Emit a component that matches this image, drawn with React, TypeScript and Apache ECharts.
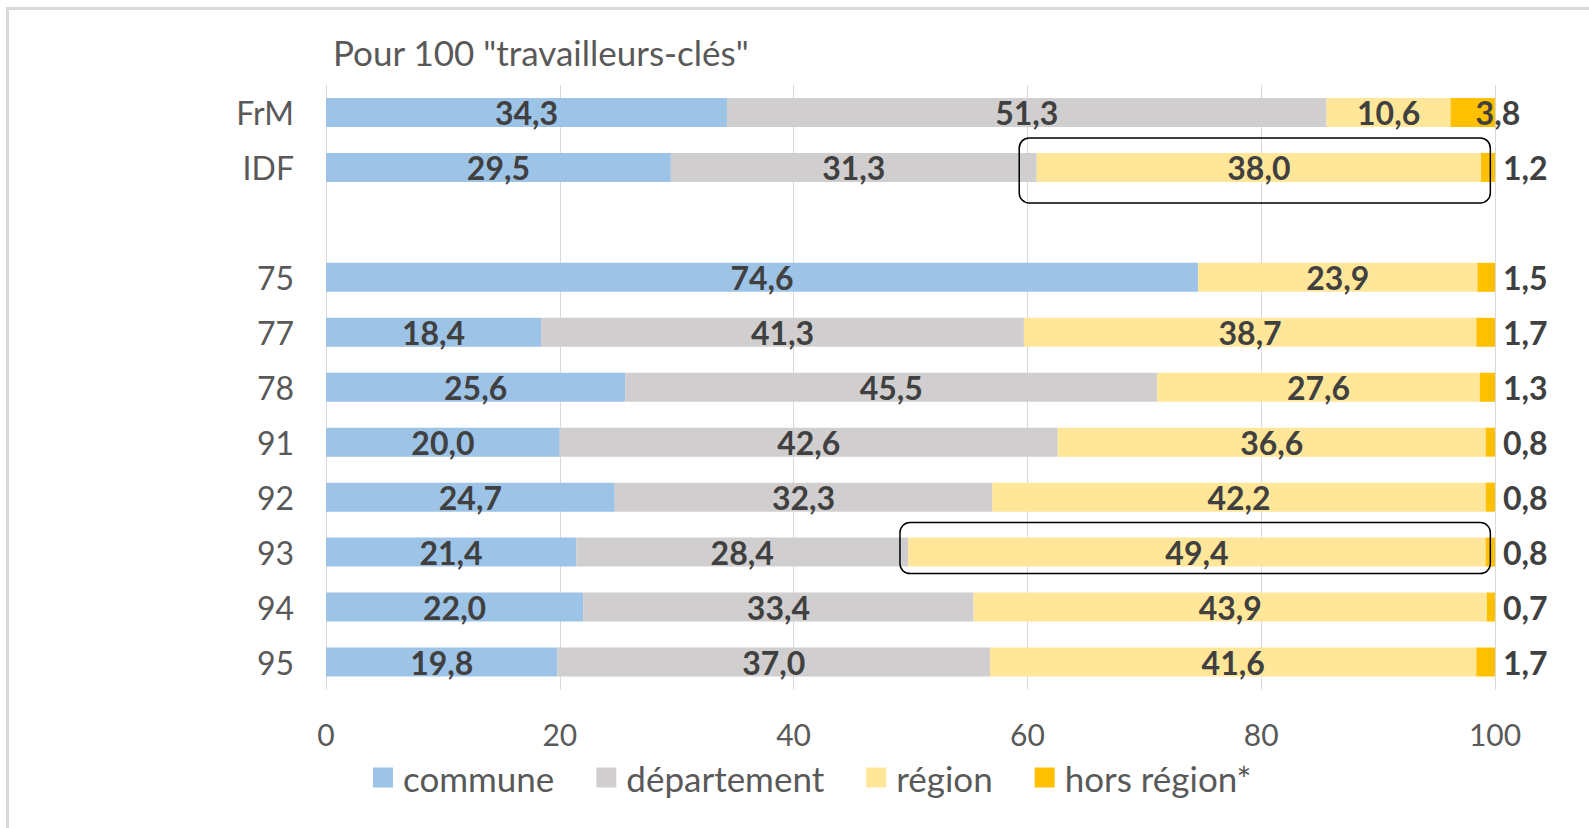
import React, { useEffect, useRef } from "react";
import * as echarts from "echarts";

const categories = ["FrM", "IDF", "", "75", "77", "78", "91", "92", "93", "94", "95"];
const commune = [34.3, 29.5, null, 74.6, 18.4, 25.6, 20.0, 24.7, 21.4, 22.0, 19.8];
const departement = [51.3, 31.3, null, null, 41.3, 45.5, 42.6, 32.3, 28.4, 33.4, 37.0];
const regionV = [10.6, 38.0, null, 23.9, 38.7, 27.6, 36.6, 42.2, 49.4, 43.9, 41.6];
const horsRegion = [3.8, 1.2, null, 1.5, 1.7, 1.3, 0.8, 0.8, 0.8, 0.7, 1.7];
const seriesNames = ["commune", "département", "région", "hors région*"];
const colors = ["#9DC3E6", "#D0CECE", "#FFE699", "#FFC000"];
const xTicks = [0, 20, 40, 60, 80, 100];
const titleText = 'Pour 100 "travailleurs-clés"';

const FONT = "Lato, 'Open Sans', sans-serif";

const fmt = (p: any) => {
  const v = typeof p.value === "object" && p.value !== null ? p.value.value : p.value;
  if (v === null || v === undefined || isNaN(Number(v))) return "";
  return Number(v).toFixed(1).replace(".", ",");
};

export default function App() {
  const ref = useRef<HTMLDivElement>(null);
  useEffect(() => {
    if (!ref.current) return;
    const chart = echarts.init(ref.current, null, { renderer: "svg" });
    const labelStyle = {
      show: true,
      formatter: fmt,
      color: "#404040",
      fontWeight: "bold" as const,
      fontSize: 32,
      fontFamily: FONT,
    };
    const mk = (i: number, data: any[], label: any) => ({
      name: seriesNames[i],
      type: "bar" as const,
      stack: "total",
      barWidth: 29,
      data,
      itemStyle: { color: colors[i] },
      label,
      emphasis: { disabled: true },
    });
    chart.setOption({
      animation: false,
      title: {
        text: titleText,
        left: 328,
        top: 29,
        textStyle: { fontSize: 35, fontWeight: "normal", color: "#595959", fontFamily: FONT },
      },
      legend: {
        bottom: 28,
        left: 368,
        itemWidth: 30,
        itemHeight: 20,
        itemGap: 42,
        icon: "path://M0,0H10V10H0Z",
        textStyle: { fontSize: 35, color: "#595959", fontFamily: FONT },
        data: seriesNames,
      },
      grid: { left: 326, right: 94, top: 85, bottom: 138.5 },
      xAxis: {
        type: "value",
        min: 0,
        max: 100,
        interval: 20,
        axisLine: { show: false },
        axisTick: { show: false },
        splitLine: { show: true, lineStyle: { color: "#D9D9D9", width: 1 } },
        axisLabel: {
          fontSize: 30,
          color: "#595959",
          fontFamily: FONT,
          margin: 29,
          formatter: (v: number) => (xTicks.includes(v) ? String(v) : ""),
        },
      },
      yAxis: {
        type: "category",
        data: categories,
        inverse: true,
        axisLine: { show: false },
        axisTick: { show: false },
        axisLabel: { fontSize: 32, color: "#595959", fontFamily: FONT, margin: 32 },
      },
      series: [
        mk(0, commune, labelStyle),
        mk(1, departement, labelStyle),
        mk(2, regionV, labelStyle),
        mk(
          3,
          horsRegion.map((v, i) =>
            i === 0 ? { value: v, label: { position: "insideLeft", offset: [17, 0] } } : v
          ),
          { ...labelStyle, position: "right", distance: 8 }
        ),
      ],
    });

    const box = (xStart: number, xEnd: number, idx: number, dy: number, h: number) => {
      const p1 = chart.convertToPixel({ gridIndex: 0 }, [xStart, idx]) as number[];
      const p2 = chart.convertToPixel({ gridIndex: 0 }, [xEnd, idx]) as number[];
      return {
        type: "rect",
        shape: { x: p1[0], y: p1[1] + dy - h / 2, width: p2[0] - p1[0], height: h, r: 10 },
        style: { fill: "none", stroke: "#000", lineWidth: 1.5 },
        z: 10,
      };
    };

    chart.setOption({
      graphic: [
        {
          type: "rect",
          shape: { x: 7.5, y: 8.5, width: 1700, height: 900 },
          style: { fill: "none", stroke: "#D9D9D9", lineWidth: 3 },
          z: -1,
        },
        box(59.3, 99.6, 1, 3, 65),
        box(49.1, 99.6, 8, -4, 51),
      ],
    });

    return () => chart.dispose();
  }, []);
  return (
    <div
      ref={ref}
      style={{ position: "fixed", left: 0, top: 0, width: 1589, height: 828, background: "#fff" }}
    />
  );
}
